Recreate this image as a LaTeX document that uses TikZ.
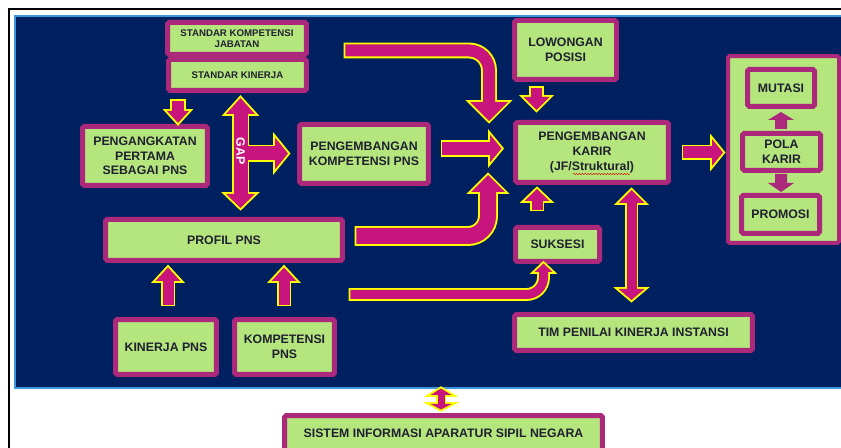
\documentclass[tikz,border=0pt]{standalone}
\usepackage{fontspec}
\setmainfont{Liberation Sans}
\usetikzlibrary{decorations.pathmorphing}

\definecolor{navy}{RGB}{0,32,96}
\definecolor{panelline}{RGB}{60,150,220}
\definecolor{boxline}{RGB}{172,40,122}
\definecolor{boxfill}{RGB}{180,230,125}
\definecolor{boxtext}{RGB}{32,32,48}
\definecolor{arrowfill}{RGB}{200,20,125}
\definecolor{arrowline}{RGB}{255,255,0}

\newlength{\olw}
\setlength{\olw}{1.1pt}
\newcommand{\labelfont}{\fontsize{7}{8.4}\selectfont\bfseries}
\newcommand{\smalllabelfont}{\fontsize{5.5}{6.3}\selectfont\bfseries}

\tikzset{
  box/.style={draw=boxline, fill=boxfill, line width=0.1cm, rounded corners=1pt,
    align=center, inner sep=0pt, text=boxtext, font=\labelfont},
  smallbox/.style={box, font=\smalllabelfont},
  groupbox/.style={box, line width=0.08cm},
  gaptext/.style={text=white, font=\labelfont, inner sep=0pt}
}

% block arrow: yellow rim round a magenta body
% #1 options of the body's shaft, #2 shaft width (px), #3 shaft path, #4 head(s)
\newcommand{\blockarrow}[4][shorten <=\olw]{%
  \draw[draw=arrowline, line width={#2*0.02cm+2*\olw}] #3;
  \filldraw[draw=arrowline, fill=arrowline, line width=2*\olw, line join=miter] #4;
  \draw[draw=arrowfill, line width={#2*0.02cm}, #1] #3;
  \fill[arrowfill] #4;
}

\begin{document}
\begin{tikzpicture}[x=0.02cm, y=-0.02cm]
  \useasboundingbox (0,0) rectangle (841,448);
  \clip (0,0) rectangle (841,448);
  \fill[white] (0,0) rectangle (841,448);

  % frame and panel
  \draw[black, line width=0.04cm] (9,460) -- (9,9.5) -- (850,9.5);
  \draw[panelline, line width=0.04cm, fill=navy] (15,16) rectangle (850,388);

  % boxes
  \node[smallbox, minimum width=2.76cm, minimum height=0.62cm] (sk) at (237.5,75) {STANDAR KINERJA};
  \node[smallbox, minimum width=2.78cm, minimum height=0.64cm] (skj) at (237,38.5) {STANDAR KOMPETENSI\\JABATAN};
  \node[box, minimum width=2.5cm, minimum height=1.18cm] (pp) at (145,156) {PENGANGKATAN\\PERTAMA\\SEBAGAI PNS};
  \node[box, minimum width=2.58cm, minimum height=1.18cm] (pk) at (364,154) {PENGEMBANGAN\\KOMPETENSI PNS};
  \node[box, minimum width=4.74cm, minimum height=0.82cm] (profil) at (224,240) {PROFIL PNS};
  \node[box, minimum width=2.02cm, minimum height=1.1cm] (kinerja) at (166,347) {KINERJA PNS};
  \node[box, minimum width=2.0cm, minimum height=1.1cm] (kompetensi) at (284.5,347) {KOMPETENSI\\PNS};
  \node[box, minimum width=2.04cm, minimum height=1.18cm] (lowongan) at (565.5,50) {LOWONGAN\\POSISI};
  \node[box, minimum width=3.06cm, minimum height=1.2cm] (karir) at (592,152.5) {PENGEMBANGAN\\KARIR\\(JF/Struktural)};
  \node[box, minimum width=1.68cm, minimum height=0.68cm] (suksesi) at (557.5,244.5) {SUKSESI};
  \node[box, minimum width=4.76cm, minimum height=0.72cm] (tim) at (633.5,332.5) {TIM PENILAI KINERJA INSTANSI};
  \node[box, minimum width=6.36cm, minimum height=0.72cm] (sistem) at (443.5,433.5) {SISTEM INFORMASI APARATUR SIPIL NEGARA};

  % pola karir group
  \node[groupbox, minimum width=2.22cm, minimum height=3.74cm] (group) at (783.5,149.5) {};
  \node[box, minimum width=1.34cm, minimum height=0.74cm] (mutasi) at (781,88) {MUTASI};
  \node[box, minimum width=1.56cm, minimum height=0.74cm] (pola) at (781.5,152) {POLA\\KARIR};
  \node[box, minimum width=1.56cm, minimum height=0.76cm] (promosi) at (780.5,214.5) {PROMOSI};
  \fill[boxline] (775,129) -- (775,120) -- (768,120) -- (781,112) -- (794,120) -- (787,120) -- (787,129) -- cycle;
  \fill[boxline] (775,174) -- (775,183) -- (768,183) -- (781,192) -- (794,183) -- (787,183) -- (787,174) -- cycle;

  % spelling mark
  \draw[red!85!black, line width=0.25pt, decorate, decoration={snake, amplitude=0.35pt, segment length=1.6pt}]
    (573,174) -- (630,174);

  % arrows
  \blockarrow{12}{(178,99) -- (178,111)}{(167,111) -- (178,123) -- (189,111) -- cycle}
  \blockarrow[]{14}{(240.5,114) -- (240.5,194) (240.5,153.5) -- (275,153.5)}
    {(226,114) -- (240.5,98) -- (255,114) -- cycle (226,194) -- (240.5,208) -- (255,194) -- cycle
     (275,137.5) -- (288,153.5) -- (275,169.5) -- cycle}
  \node[gaptext, rotate=-90] (gap) at (240.5,151) {GAP};
  \blockarrow{12}{[rounded corners=0.4cm] (343.5,50.5) -- (489,50.5) -- (489,102)}
    {(470,102) -- (489,121) -- (508,102) -- cycle}
  \blockarrow{13}{(440.5,148.5) -- (490,148.5)}{(490,134.5) -- (501.5,148.5) -- (490,162.5) -- cycle}
  \blockarrow{16}{[rounded corners=0.4cm] (354.5,236) -- (488,236) -- (488,192)}
    {(471,192) -- (488,175) -- (505,192) -- cycle}
  \blockarrow{11}{(537,211.5) -- (537,201)}{(524.5,201) -- (537,189) -- (549.5,201) -- cycle}
  \blockarrow{9}{[rounded corners=0.34cm] (348.5,294.5) -- (543.5,294.5) -- (543.5,272)}
    {(534.5,272) -- (543.5,263.5) -- (552.5,272) -- cycle}
  \blockarrow[]{10}{(631.5,203) -- (631.5,289)}
    {(618.5,203) -- (631.5,190) -- (644.5,203) -- cycle (618.5,289) -- (631.5,300) -- (644.5,289) -- cycle}
  \blockarrow{11}{(536.5,86.5) -- (536.5,97)}{(523.5,97) -- (536.5,110) -- (549.5,97) -- cycle}
  \blockarrow{12}{(681.5,152.5) -- (712,152.5)}{(712,139) -- (723,152.5) -- (712,166) -- cycle}
  \foreach \cx in {168,284}{
    \blockarrow{11}{(\cx,306.5) -- (\cx,281)}{(\cx-12.5,281) -- (\cx,267.5) -- (\cx+12.5,281) -- cycle}
  }
  \blockarrow[]{7}{(441,395) -- (441,404)}
    {(430.5,395) -- (441,388.5) -- (451.5,395) -- cycle (430.5,404) -- (441,409.5) -- (451.5,404) -- cycle}
\end{tikzpicture}
\end{document}
